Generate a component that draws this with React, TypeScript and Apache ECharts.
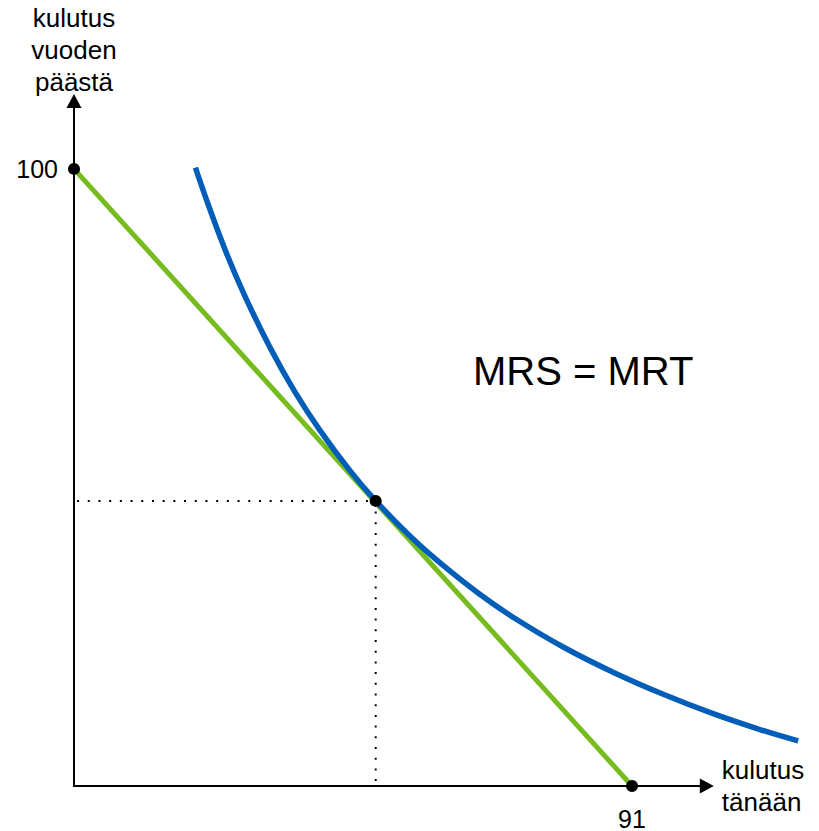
import React, { useEffect, useRef } from "react";
import * as echarts from "echarts";

const budgetLine: [number, number][] = [[0, 100], [91, 0]];
const indifference: [number, number][] = [
  [19.8, 100.2], [22, 93.9], [25, 86.0], [28, 79.1], [32, 71.0], [36, 63.9],
  [40, 57.8], [45, 51.1], [49.2, 46.2], [55, 40.3], [60, 35.9], [66, 31.2],
  [72, 27.1], [80, 22.4], [88, 18.4], [96, 14.9], [104, 11.8], [112, 9.1], [118.1, 7.3],
];
const tangentPoint: [number, number] = [49.2, 46.2];
const markedPoints: [number, number][] = [[0, 100], [91, 0], tangentPoint];
const xTicks = [91];
const yTicks = [100];
const xName = "kulutus\ntänään";
const yName = "kulutus\nvuoden\npäästä";
const annotation = "MRS = MRT";

const FONT = "Liberation Sans, Arial, sans-serif";
const X_AXIS_MAX = 103.2;
const X_PLOT_MAX = 120;
const Y_MAX = 111;

export default function App() {
  const ref = useRef<HTMLDivElement>(null);
  useEffect(() => {
    const chart = echarts.init(ref.current!, null, { renderer: "svg" });
    const left = 74;
    const bottom = 45;
    const pxPerX = 6.132;
    const pxPerY = 6.171;
    const top = 831 - bottom - Y_MAX * pxPerY;
    const axisRight = 819 - (left + X_AXIS_MAX * pxPerX);
    const plotRight = 819 - (left + X_PLOT_MAX * pxPerX);
    const axisLineCommon = {
      lineStyle: { color: "#000", width: 2 },
      symbol: ["none", "triangle"],
      symbolSize: [15, 14],
      symbolOffset: [0, 0],
    };
    chart.setOption({
      animation: false,
      textStyle: { fontFamily: FONT },
      grid: [
        { left, right: axisRight, top, bottom, containLabel: false },
        { left, right: plotRight, top, bottom, containLabel: false },
      ],
      xAxis: [
        {
          type: "value", gridIndex: 0, min: 0, max: X_AXIS_MAX,
          splitLine: { show: false },
          axisTick: { show: false },
          axisLine: axisLineCommon,
          axisLabel: { customValues: xTicks, color: "#000", fontSize: 25, margin: 20, fontFamily: FONT },
          name: xName, nameLocation: "end", nameGap: 15,
          nameTextStyle: { color: "#000", fontSize: 26, lineHeight: 32, align: "left", verticalAlign: "middle", fontFamily: FONT },
        },
        { type: "value", gridIndex: 1, min: 0, max: X_PLOT_MAX, show: false },
      ],
      yAxis: [
        {
          type: "value", gridIndex: 0, min: 0, max: Y_MAX,
          splitLine: { show: false },
          axisTick: { show: false },
          axisLine: axisLineCommon,
          axisLabel: { customValues: yTicks, color: "#000", fontSize: 25, margin: 16, fontFamily: FONT },
          name: yName, nameLocation: "end", nameGap: 3,
          nameTextStyle: { color: "#000", fontSize: 26, lineHeight: 32, align: "center", verticalAlign: "bottom", fontFamily: FONT },
        },
        { type: "value", gridIndex: 1, min: 0, max: Y_MAX, show: false },
      ],
      series: [
        {
          type: "line", xAxisIndex: 1, yAxisIndex: 1,
          data: [[0.5, tangentPoint[1]], tangentPoint], symbol: "none", silent: true,
          lineStyle: { color: "#000", width: 2, type: [2, 8.7] }, z: 1,
        },
        {
          type: "line", xAxisIndex: 1, yAxisIndex: 1,
          data: [tangentPoint, [tangentPoint[0], 0]], symbol: "none", silent: true,
          lineStyle: { color: "#000", width: 2, type: [2, 8.7] }, z: 1,
        },
        {
          type: "line", xAxisIndex: 1, yAxisIndex: 1,
          data: budgetLine, symbol: "none", silent: true,
          lineStyle: { color: "#77BC1F", width: 5 }, z: 2,
        },
        {
          type: "line", xAxisIndex: 1, yAxisIndex: 1,
          data: indifference, symbol: "none", smooth: 0.4, silent: true,
          lineStyle: { color: "#005EB8", width: 5.5 }, z: 3,
        },
        {
          type: "scatter", xAxisIndex: 1, yAxisIndex: 1,
          data: markedPoints, symbol: "circle", symbolSize: 12, silent: true,
          itemStyle: { color: "#000", opacity: 1 }, z: 5, clip: false,
        },
      ],
      graphic: [
        {
          type: "text", left: 473, top: 351,
          style: { text: annotation, fontSize: 40, fill: "#000", fontFamily: FONT },
        },
      ],
    });
    return () => chart.dispose();
  }, []);
  return <div ref={ref} style={{ width: 819, height: 831, position: "absolute", left: 0, top: 0 }} />;
}
